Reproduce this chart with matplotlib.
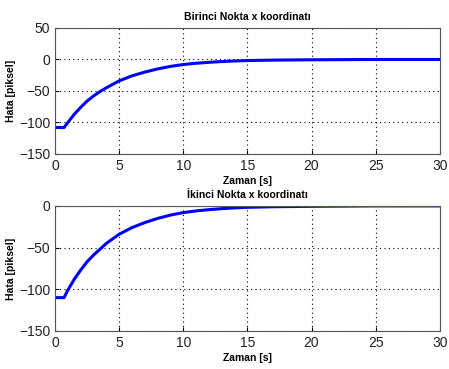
import matplotlib.pyplot as plt

# Time samples (s) and error values (pixels)
t = [0, 0.7, 1, 1.5, 2, 2.5, 3, 3.5, 4, 5, 6, 7, 8, 9, 10, 11, 12, 13, 14, 15, 17, 20, 25, 30]
err1 = [-108, -108, -100, -87, -76, -66, -58, -51, -45, -34, -26, -20, -15, -11, -8, -6, -4.5, -3.3, -2.4, -1.7, -1, -0.5, 0, 0]
err2 = [-110, -110, -101, -88, -77, -67, -59, -52, -45, -34, -26, -20, -15, -11, -8, -6, -4.5, -3.3, -2.4, -1.7, -1, -0.5, 0, 0]

titles = ['Birinci Nokta x koordinatı', 'İkinci Nokta x koordinatı']
ylims = [(-150, 50), (-150, 0)]
yticks = [[-150, -100, -50, 0, 50], [-150, -100, -50, 0]]

plt.rcParams['font.family'] = ['Liberation Sans', 'DejaVu Sans']
fig = plt.figure(figsize=(4.49, 3.69), dpi=100)
ax1 = fig.add_axes([0.1225, 0.5827, 0.857, 0.3415])
ax2 = fig.add_axes([0.1225, 0.1030, 0.857, 0.339])

for ax, y, title, yl, yt in zip([ax1, ax2], [err1, err2], titles, ylims, yticks):
    ax.plot(t, y, color='#0000ff', linewidth=2.2)
    ax.set_xlim(0, 30)
    ax.set_ylim(*yl)
    ax.set_yticks(yt)
    ax.set_xticks([0, 5, 10, 15, 20, 25, 30])
    ax.grid(True, color='black', linestyle=(0, (1, 3)), linewidth=0.8)
    ax.tick_params(labelsize=10, direction='in', length=3, labelcolor='#222222')
    ax.set_title(title, fontsize=7.5, fontweight='bold', pad=6)
    ax.set_xlabel('Zaman [s]', fontsize=7.5, fontweight='bold', labelpad=2)
    ax.set_ylabel('Hata [piksel]', fontsize=7.5, fontweight='bold', labelpad=2)
    for s in ax.spines.values():
        s.set_color('#555555')

fig.savefig('out.png', dpi=100)
